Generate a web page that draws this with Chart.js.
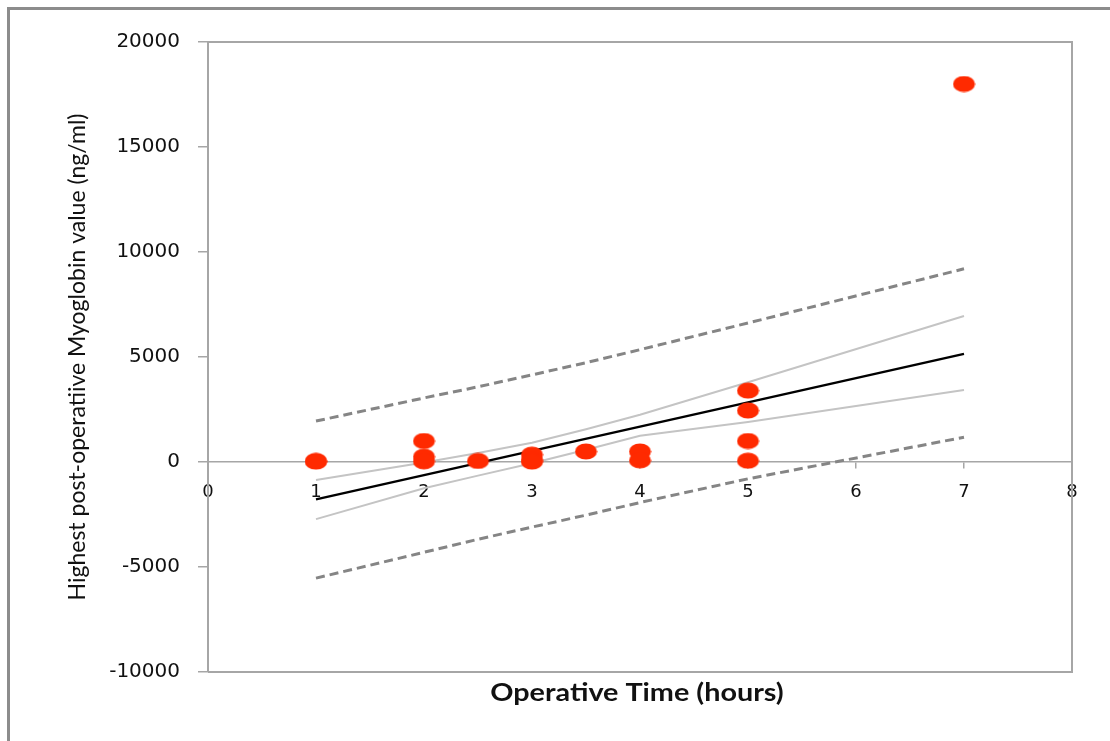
<!DOCTYPE html>
<html>
<head>
<meta charset="utf-8">
<script src="https://cdn.jsdelivr.net/npm/chart.js@4.4.1/dist/chart.umd.min.js"></script>
<style>
  html, body { margin: 0; padding: 0; background: #fff; overflow: hidden; }
  #wrap { position: relative; width: 1110px; height: 741px; }
</style>
</head>
<body>
<div id="wrap"><canvas id="scatterChart"></canvas></div>
<script>
// measured patients: operative time (hours) vs highest myoglobin (ng/ml)
const hours = [1, 1, 2, 2, 2, 2.5, 3, 3, 3, 3.5, 4, 4, 5, 5, 5, 5, 7];
const myoglobin = [50, 20, 1000, 250, 30, 50, 350, 100, 20, 500, 500, 80, 3400, 2450, 1000, 60, 18000];

// linear fit
const fitX = [1, 7];
const fitY = [-1780, 5150];

// confidence / prediction bands at the observed hours
const bandX = [1, 2, 2.5, 3, 3.5, 4, 5, 7];
const confUpper = [-860, -20, 430, 920, 1560, 2250, 3800, 6950];
const confLower = [-2720, -1250, -650, -60, 580, 1250, 1900, 3430];
const predUpper = [1950, 3050, 3580, 4150, 4730, 5350, 6620, 9200];
const predLower = [-5530, -4300, -3680, -3100, -2530, -1930, -800, 1180];

const yTicks = [-10000, -5000, 0, 5000, 10000, 15000, 20000];
const xTitle = 'Operative Time (hours)';
const yTitle = 'Highest post-operatiive Myoglobin value (ng/ml)';

function toPoints(xs, ys) {
    return xs.map(function (x, i) { return { x: x, y: ys[i] }; });
}

// excel style oval marker
function makeDot(w, h, color) {
    const c = document.createElement('canvas');
    c.width = w;
    c.height = h;
    const g = c.getContext('2d');
    g.fillStyle = color;
    g.beginPath();
    g.ellipse(w / 2, h / 2, w / 2 - 0.5, h / 2 - 0.5, 0, 0, Math.PI * 2);
    g.fill();
    return c;
}

const frameAndTitles = {
    id: 'frameAndTitles',
    beforeDraw: function (chart) {
        const ctx = chart.ctx;
        ctx.save();
        ctx.fillStyle = '#fff';
        ctx.fillRect(0, 0, chart.width, chart.height);
        // outer chart frame (cut off at right/bottom)
        ctx.strokeStyle = '#8c8c8c';
        ctx.lineWidth = 3;
        ctx.strokeRect(8.5, 8.5, 2000, 2000);
        ctx.restore();
    },
    beforeDatasetsDraw: function (chart) {
        const ctx = chart.ctx;
        const a = chart.chartArea;
        ctx.save();
        ctx.strokeStyle = '#a6a6a6';
        ctx.lineWidth = 2;
        ctx.beginPath();
        ctx.moveTo(a.left, a.top);
        ctx.lineTo(a.right, a.top);
        ctx.lineTo(a.right, a.bottom);
        ctx.lineTo(a.left, a.bottom);
        ctx.stroke();
        ctx.restore();
    },
    afterDraw: function (chart) {
        const ctx = chart.ctx;
        const a = chart.chartArea;
        ctx.save();
        ctx.fillStyle = '#111';
        ctx.textAlign = 'center';
        ctx.textBaseline = 'middle';
        // the source picture is a little stretched sideways
        ctx.save();
        ctx.translate((a.left + a.right) / 2 - 3, 693);
        ctx.scale(1.15, 1);
        ctx.font = 'bold 25px Lato';
        ctx.fillText(xTitle, 0, 0);
        ctx.restore();
        ctx.translate(78, (a.top + a.bottom) / 2);
        ctx.rotate(-Math.PI / 2);
        ctx.font = '23px Lato';
        ctx.fillText(yTitle, 0, 0);
        ctx.restore();
    }
};

const lineBase = { type: 'line', showLine: true, pointRadius: 0, fill: false, tension: 0 };

const ctx = document.getElementById('scatterChart').getContext('2d');
new Chart(ctx, {
    type: 'scatter',
    data: {
        datasets: [
            {
                label: 'Patients',
                data: toPoints(hours, myoglobin),
                pointStyle: makeDot(23, 17, '#ff2a00'),
                pointRadius: 10,
                backgroundColor: '#ff2a00',
                borderWidth: 0
            },
            Object.assign({}, lineBase, { label: 'Fit', data: toPoints(fitX, fitY), borderColor: '#000', borderWidth: 2.5 }),
            Object.assign({}, lineBase, { label: 'CI upper', data: toPoints(bandX, confUpper), borderColor: '#c4c4c4', borderWidth: 2 }),
            Object.assign({}, lineBase, { label: 'CI lower', data: toPoints(bandX, confLower), borderColor: '#c4c4c4', borderWidth: 2 }),
            Object.assign({}, lineBase, { label: 'PI upper', data: toPoints(bandX, predUpper), borderColor: '#858585', borderWidth: 3, borderDash: [9, 5] }),
            Object.assign({}, lineBase, { label: 'PI lower', data: toPoints(bandX, predLower), borderColor: '#858585', borderWidth: 3, borderDash: [9, 5] })
        ]
    },
    options: {
        responsive: true,
        maintainAspectRatio: false,
        animation: false,
        layout: { padding: { left: 8, top: 42, right: 38, bottom: 69 } },
        plugins: {
            legend: { display: false },
            tooltip: { enabled: false }
        },
        scales: {
            x: {
                type: 'linear',
                position: { y: 0 },
                min: 0,
                max: 8,
                ticks: {
                    stepSize: 1,
                    padding: 14,
                    color: '#111',
                    font: { family: 'DejaVu Sans', size: 18 }
                },
                grid: { drawOnChartArea: false, tickLength: 6, color: '#a6a6a6', lineWidth: 1.5 },
                border: { color: '#a6a6a6', width: 1.5 }
            },
            y: {
                type: 'linear',
                min: yTicks[0],
                max: yTicks[yTicks.length - 1],
                afterFit: function (scale) { scale.width = 200; },
                afterBuildTicks: function (scale) {
                    scale.ticks = yTicks.map(function (v) { return { value: v }; });
                },
                ticks: {
                    padding: 18,
                    color: '#111',
                    font: { family: 'DejaVu Sans', size: 20 },
                    callback: function (v) { return String(v); }
                },
                grid: { drawOnChartArea: false, tickLength: 10, color: '#a6a6a6', lineWidth: 1.5 },
                border: { color: '#a6a6a6', width: 2 }
            }
        }
    },
    plugins: [frameAndTitles]
});
</script>
</body>
</html>
